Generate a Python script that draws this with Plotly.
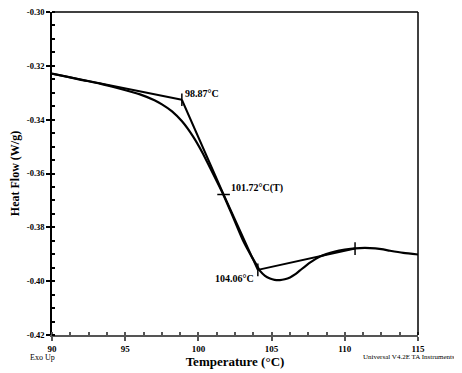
import plotly.graph_objects as go

# DSC curve (temperature °C, heat flow W/g)
temp = [90.0, 91.0, 91.91, 93.28, 94.58, 96.01, 97.0, 97.51, 98.2, 98.88, 99.63, 100.25, 100.79,
        101.68, 102.36, 103.05, 103.6, 104.0, 104.21, 104.55, 104.89, 105.2, 105.57, 105.9, 106.26,
        106.6, 106.94, 107.62, 108.31, 109.33, 110.0, 110.7, 111.72, 112.5, 113.09, 114.0, 115.0]
heat = [-0.3229, -0.3240, -0.3251, -0.3266, -0.3284, -0.3306, -0.3328, -0.3343, -0.3369, -0.3406,
        -0.3462, -0.3520, -0.3578, -0.3676, -0.3761, -0.3849, -0.3905, -0.3942, -0.3962, -0.3980,
        -0.3990, -0.3995, -0.3996, -0.3993, -0.3986, -0.3975, -0.3960, -0.3931, -0.3908, -0.3890,
        -0.3883, -0.3878, -0.3877, -0.3881, -0.3887, -0.3895, -0.3901]

# Analysis construction lines
onset_line_x = [90.0, 98.87]
onset_line_y = [-0.3229, -0.3326]
tangent_x = [98.87, 101.72, 104.06]
tangent_y = [-0.3326, -0.3678, -0.3958]
end_line_x = [104.06, 110.7]
end_line_y = [-0.3958, -0.3879]

# Markers
mark_x = [98.87, 104.06, 110.7]
mark_y = [-0.3326, -0.3958, -0.3879]
mid_x = [101.72]
mid_y = [-0.3678]

labels = ["98.87°C", "101.72°C(T)", "104.06°C"]

y_ticks = [-0.42, -0.40, -0.38, -0.36, -0.34, -0.32, -0.30]
y_ticktext = ["-0.42", "-0.40", "-0.38", "-0.36", "-0.34", "-0.32", "-0.30"]
x_ticks = [90, 95, 100, 105, 110, 115]
x_range = [90, 115]
y_range = [-0.42, -0.30]

serif = "Liberation Serif"
fig = go.Figure()
line_style = dict(color="black", width=2)
fig.add_trace(go.Scatter(x=temp, y=heat, mode="lines", line=dict(color="black", width=2.2, shape="spline", smoothing=0.6)))
fig.add_trace(go.Scatter(x=onset_line_x, y=onset_line_y, mode="lines", line=line_style))
fig.add_trace(go.Scatter(x=tangent_x, y=tangent_y, mode="lines", line=line_style))
fig.add_trace(go.Scatter(x=end_line_x, y=end_line_y, mode="lines", line=line_style))
fig.add_trace(go.Scatter(x=mark_x, y=mark_y, mode="markers",
                         marker=dict(symbol="line-ns-open", size=9, color="black",
                                     line=dict(color="black", width=1.5))))
fig.add_trace(go.Scatter(x=mid_x, y=mid_y, mode="markers",
                         marker=dict(symbol="line-ew-open", size=9, color="black",
                                     line=dict(color="black", width=1.5))))

fig.add_annotation(x=onset_line_x[1], y=onset_line_y[1], text=labels[0], showarrow=False,
                   xanchor="left", yanchor="bottom", xshift=1, yshift=-1,
                   font=dict(family=serif, size=10, color="black", weight="bold"))
fig.add_annotation(x=mid_x[0], y=mid_y[0], text=labels[1], showarrow=False,
                   xanchor="left", yanchor="bottom", xshift=5, yshift=-1,
                   font=dict(family=serif, size=10, color="black", weight="bold"))
fig.add_annotation(x=tangent_x[2], y=tangent_y[2], text=labels[2], showarrow=False,
                   xanchor="right", yanchor="top", xshift=-2, yshift=-1,
                   font=dict(family=serif, size=10, color="black", weight="bold"))

fig.add_annotation(xref="paper", yref="paper", x=-0.066, y=-0.05, text="Exo Up", showarrow=False,
                   xanchor="left", yanchor="top", font=dict(family=serif, size=8, color="black"))
fig.add_annotation(xref="paper", yref="paper", x=1.107, y=-0.05, text="Universal V4.2E TA Instruments",
                   showarrow=False, xanchor="right", yanchor="top",
                   font=dict(family=serif, size=7, color="black"))

# frame top/right
fig.add_shape(type="line", xref="paper", yref="paper", x0=0, x1=1, y0=1, y1=1, line=dict(color="black", width=1.5))
fig.add_shape(type="line", xref="paper", yref="paper", x0=1, x1=1, y0=0, y1=1, line=dict(color="black", width=1.5))

# page body has an 8px margin, so the figure is sized/offset to compensate
fig.update_layout(
    width=454, height=365, margin=dict(l=44, r=44, t=4, b=38, autoexpand=False),
    plot_bgcolor="white", paper_bgcolor="white", showlegend=False,
    font=dict(family=serif, color="black"),
    # overlay axes give the major ticks their inner half (crossing ticks)
    xaxis2=dict(overlaying="x", side="bottom", range=x_range, tickvals=x_ticks, showticklabels=False,
                ticks="inside", ticklen=3, tickcolor="#555", tickwidth=1.5, showgrid=False,
                zeroline=False, showline=False, anchor="y"),
    yaxis2=dict(overlaying="y", side="left", range=y_range, tickvals=y_ticks, showticklabels=False,
                ticks="inside", ticklen=3, tickcolor="black", tickwidth=1.5, showgrid=False,
                zeroline=False, showline=False, anchor="x"),
)
fig.layout.xaxis.update(range=x_range, tickvals=x_ticks, showgrid=False, zeroline=False, automargin=False,
                 showline=True, linecolor="#555", linewidth=2, ticklabeloverflow="allow",
                 ticks="outside", ticklen=4, tickcolor="#555", tickwidth=1.5,
                 minor=dict(dtick=1.25, ticks="inside", ticklen=3, tickcolor="#555", tickwidth=1.5),
                 tickfont=dict(family=serif, size=9, weight="bold"),
                 title=dict(text="Temperature (°C)", font=dict(family=serif, size=13, weight="bold"), standoff=1))
fig.layout.yaxis.update(range=y_range, tickvals=y_ticks, ticktext=y_ticktext, showgrid=False, zeroline=False,
                 automargin=False, showline=True, linecolor="black", linewidth=1.5, ticklabeloverflow="allow",
                 ticks="outside", ticklen=4, tickcolor="black", tickwidth=1.5,
                 minor=dict(dtick=0.005, ticks="inside", ticklen=3, tickcolor="black", tickwidth=1.5),
                 tickfont=dict(family=serif, size=8.5, weight="bold"),
                 title=dict(text="Heat Flow (W/g)", font=dict(family=serif, size=12, weight="bold"), standoff=8))

fig.write_html("out.html")
